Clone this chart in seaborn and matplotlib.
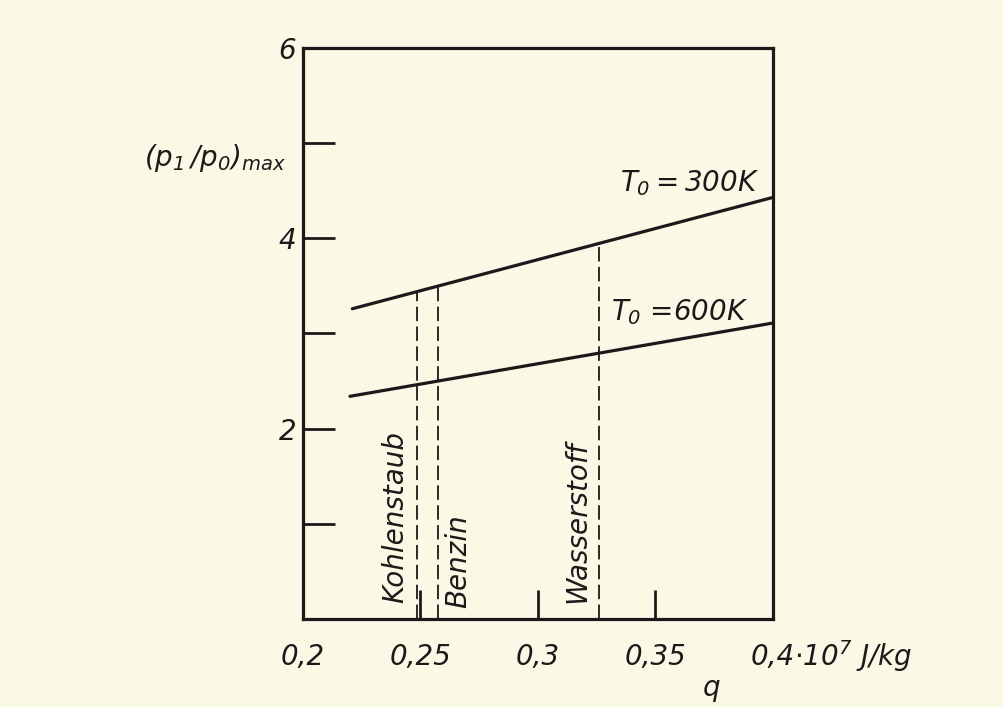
import numpy as np
import pandas as pd
import matplotlib
matplotlib.use("Agg")
import matplotlib.pyplot as plt
import seaborn as sns

# ---- data ----
q_300 = [0.221, 0.4]
p_300 = [3.26, 4.43]
q_600 = [0.220, 0.4]
p_600 = [2.34, 3.11]
fuel_names = ["Kohlenstaub", "Benzin", "Wasserstoff"]
fuel_q = [0.2485, 0.2574, 0.326]
x_ticks = [0.2, 0.25, 0.3, 0.35, 0.4]
x_ticklabels = ["0,2", "0,25", "0,3", "0,35", "0,4"]
y_ticks = [1, 2, 3, 4, 5, 6]
y_ticklabels = ["", "2", "", "4", "", "6"]

BG = "#FBF8E6"
INK = "#1a1a1a"

sns.set_theme(style="ticks")
plt.rcParams["font.family"] = ["Liberation Sans Narrow", "DejaVu Sans"]
plt.rcParams["font.style"] = "italic"
plt.rcParams["mathtext.fontset"] = "custom"
plt.rcParams["mathtext.it"] = "DejaVu Sans:italic"
plt.rcParams["mathtext.rm"] = "DejaVu Sans:italic"
plt.rcParams["mathtext.default"] = "it"

fig = plt.figure(figsize=(10.04, 7.07), dpi=100, facecolor=BG)
ax = fig.add_axes([0.3018, 0.1245, 0.468, 0.8076])
ax.set_facecolor(BG)

df = pd.concat([
    pd.DataFrame({"q": q_300, "p": p_300, "T0": "300K"}),
    pd.DataFrame({"q": q_600, "p": p_600, "T0": "600K"}),
])
sns.lineplot(data=df, x="q", y="p", units="T0", estimator=None, color=INK,
             lw=2.3, ax=ax, legend=False)

tops = np.interp(fuel_q, q_300, p_300)
ax.vlines(fuel_q, 0, tops, colors=INK, linestyles=(0, (8, 3)), lw=1.3)

ax.set_xlim(0.2, 0.4)
ax.set_ylim(0, 6)
ax.set_xticks(x_ticks)
ax.set_xticklabels(x_ticklabels)
ax.set_yticks(y_ticks)
ax.set_yticklabels(y_ticklabels)
ax.tick_params(axis="y", direction="in", length=23, width=2, pad=5,
               labelsize=20, colors=INK)
ax.tick_params(axis="x", direction="in", length=21, width=2, pad=17,
               labelsize=20, colors=INK)
for s in ax.spines.values():
    s.set_visible(True)
    s.set_linewidth(2.3)
    s.set_color(INK)
ax.set_xlabel("")
ax.set_ylabel("")

# extra unit label after 0,4
ax.annotate(r"$\cdot 10^7$ J/kg", xy=(1.0, 0), xycoords="axes fraction",
            xytext=(15, -27), textcoords="offset points", ha="left", va="center",
            fontsize=20, color=INK)
ax.text(0.87, -0.121, "q", transform=ax.transAxes, fontsize=20,
        ha="center", va="center", color=INK)
ax.text(-0.187, 0.807, r"$(p_1\,/p_0)_{max}$", transform=ax.transAxes,
        fontsize=20, ha="center", va="center", color=INK)

ax.text(0.3647, 4.58, r"$T_0 = 300K$", fontsize=20, ha="center", va="center", color=INK)
ax.text(0.3604, 3.22, r"$T_0$ =600K", fontsize=20, ha="center", va="center", color=INK)

label_x = [0.2391, 0.266, 0.3166]
label_y = [0.17, 0.12, 0.17]
for name, lx, ly in zip(fuel_names, label_x, label_y):
    ax.text(lx, ly, name, rotation=90, fontsize=20, ha="center", va="bottom", color=INK)

fig.savefig("out.png", dpi=100, facecolor=BG)
